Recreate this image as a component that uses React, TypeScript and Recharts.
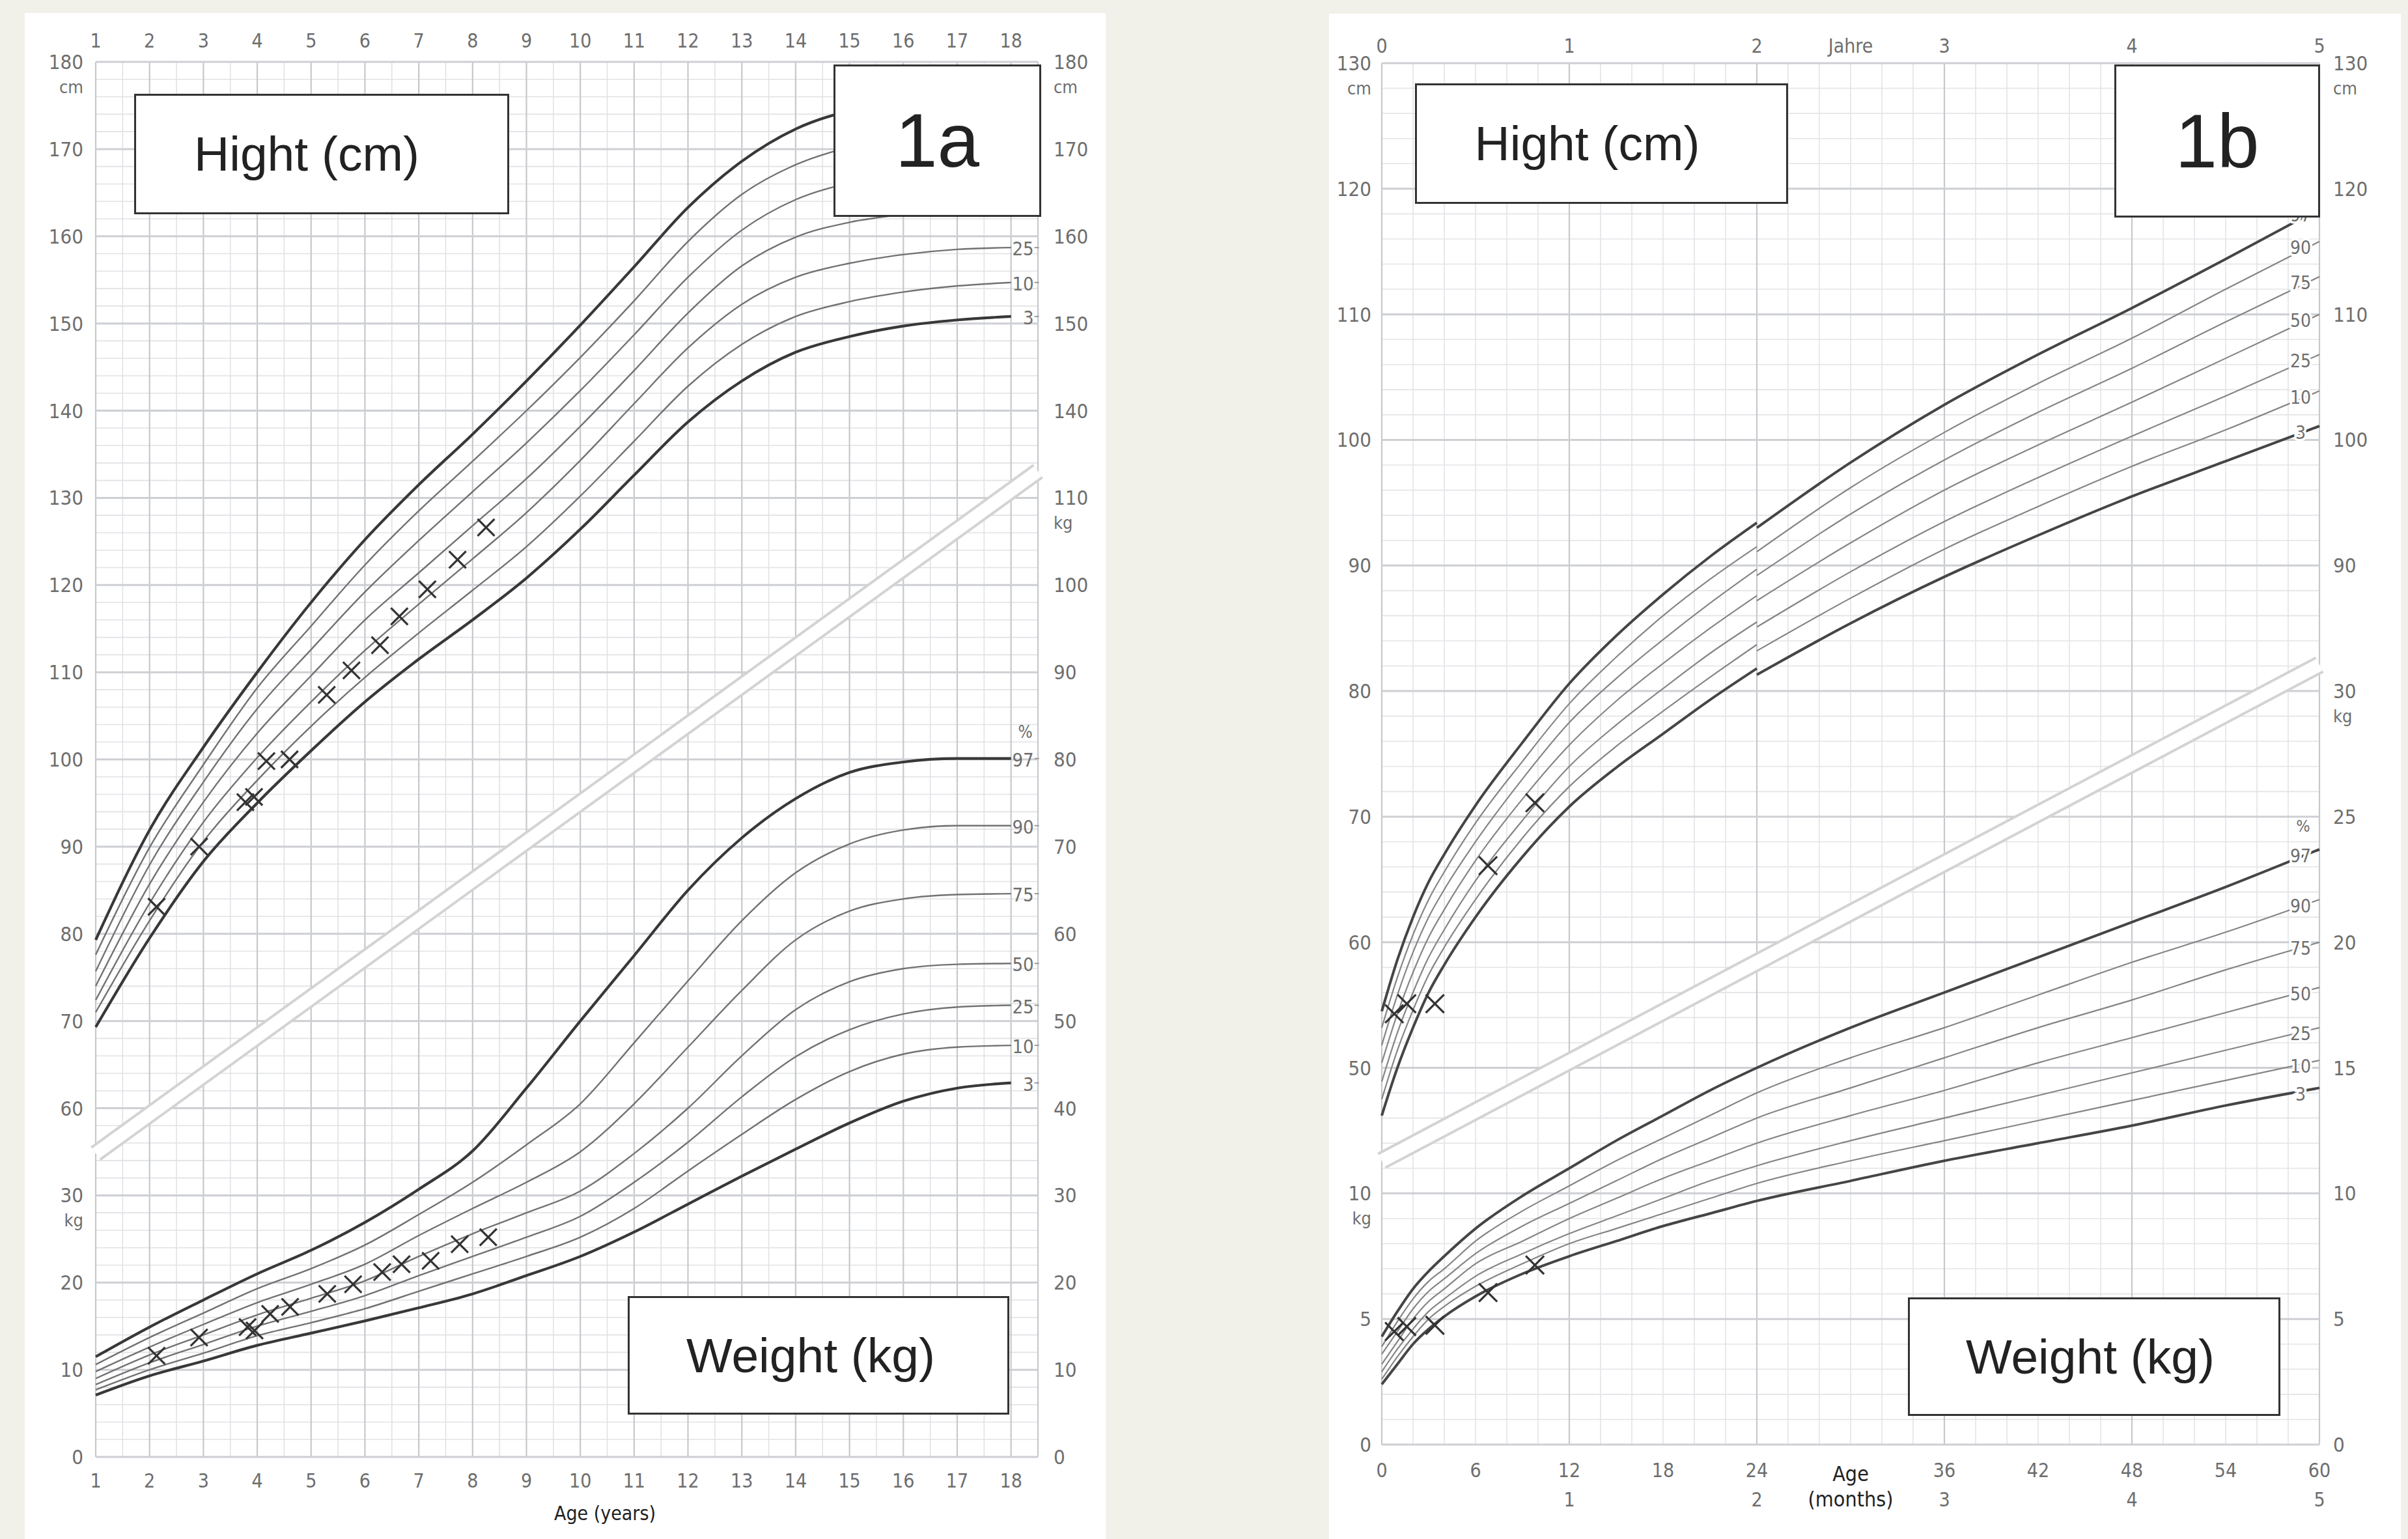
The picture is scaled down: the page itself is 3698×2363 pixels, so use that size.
import React from 'react'
import { ComposedChart, Line, XAxis, YAxis, CartesianGrid } from 'recharts'

// ---------- shared look ----------
const PAGE_BG = '#f1f1ea'
const NARROW = "'Liberation Sans Narrow', 'DejaVu Sans Condensed', 'Liberation Sans', sans-serif"
const ARIAL = "'Liberation Sans', Arial, Helvetica, sans-serif"
const TICK_GRAY = '#6e6e6e'

// ---------- 1a: girls 1-18 years ----------
const ageYears = [1, 2, 3, 4, 5, 6, 7, 8, 9, 10, 11, 12, 13, 14, 15, 16, 17, 18]

const heightP3 = [69.3, 79.5, 88.3, 95.0, 101.0, 106.6, 111.5, 116.0, 120.8, 126.4, 132.6, 138.7, 143.4, 146.7, 148.5, 149.7, 150.4, 150.8]
const heightP10 = [71.0, 81.5, 90.6, 97.6, 103.8, 109.4, 114.5, 119.4, 124.4, 130.2, 136.5, 142.8, 147.6, 150.8, 152.5, 153.6, 154.3, 154.7]
const heightP25 = [72.4, 83.5, 92.8, 100.2, 106.6, 112.5, 117.8, 123.0, 128.3, 134.3, 140.8, 147.2, 152.2, 155.3, 156.9, 157.9, 158.5, 158.7]
const heightP50 = [74.0, 85.7, 95.1, 103.0, 109.6, 116.0, 121.4, 126.8, 132.2, 138.2, 144.6, 151.2, 156.6, 159.9, 161.6, 162.5, 163.0, 163.2]
const heightP75 = [75.7, 87.9, 97.4, 105.8, 112.6, 119.2, 125.1, 130.7, 136.3, 142.3, 148.7, 155.3, 160.7, 164.2, 166.1, 167.0, 167.5, 167.7]
const heightP90 = [77.6, 89.9, 99.4, 108.2, 115.3, 122.3, 128.5, 134.2, 140.0, 146.1, 152.6, 159.4, 164.8, 168.2, 170.2, 171.2, 171.6, 171.8]
const heightP97 = [79.3, 91.9, 101.4, 110.0, 118.0, 125.2, 131.5, 137.3, 143.4, 149.8, 156.5, 163.3, 168.6, 172.3, 174.4, 175.4, 175.8, 176.0]

// weight in kg (drawn 20 units below the cm scale, as on the sheet)
const weightP3 = [7.1, 9.3, 11.0, 12.8, 14.2, 15.6, 17.1, 18.7, 20.8, 23.0, 25.8, 29.0, 32.2, 35.3, 38.3, 40.8, 42.3, 42.9]
const weightP10 = [7.7, 10.0, 11.9, 13.9, 15.4, 17.0, 19.0, 21.0, 23.0, 25.2, 28.5, 32.8, 37.0, 41.0, 44.2, 46.2, 47.0, 47.2]
const weightP25 = [8.3, 10.8, 12.9, 15.0, 16.7, 18.5, 20.8, 23.0, 25.2, 27.6, 31.5, 36.1, 41.3, 45.9, 49.0, 50.8, 51.6, 51.8]
const weightP50 = [9.0, 11.7, 14.0, 16.3, 18.2, 20.2, 23.0, 25.6, 28.0, 30.5, 34.8, 40.0, 46.0, 51.3, 54.5, 56.0, 56.5, 56.6]
const weightP75 = [9.8, 12.6, 15.2, 17.7, 19.8, 22.1, 25.4, 28.5, 31.5, 35.0, 40.5, 47.0, 53.5, 59.3, 62.6, 64.0, 64.5, 64.6]
const weightP90 = [10.6, 13.7, 16.5, 19.3, 21.6, 24.3, 27.8, 31.5, 35.8, 40.5, 47.5, 54.6, 61.5, 67.0, 70.3, 71.9, 72.4, 72.4]
const weightP97 = [11.5, 14.9, 18.0, 21.0, 23.7, 26.9, 30.7, 35.1, 42.3, 50.0, 57.5, 65.0, 71.0, 75.5, 78.5, 79.7, 80.1, 80.1]

// measured child (x marks)
const childHeightAge = [2.13, 2.92, 3.78, 3.94, 4.17, 4.6, 5.29, 5.75, 6.28, 6.64, 7.16, 7.72, 8.25]
const childHeightCm = [83.1, 90.0, 95.1, 95.7, 99.8, 100.0, 107.4, 110.2, 113.1, 116.4, 119.5, 122.9, 126.6]
const childWeightAge = [2.13, 2.92, 3.82, 3.95, 4.24, 4.61, 5.3, 5.78, 6.32, 6.68, 7.22, 7.76, 8.29]
const childWeightKg = [11.6, 13.7, 14.9, 14.5, 16.4, 17.2, 18.7, 19.8, 21.2, 22.1, 22.5, 24.4, 25.2]

// light double line between the two scales (centre line of the band)
const bandAgeA = [1, 18.5]
const bandCentreA = [54.8, 133.05]

const leftYLeftLabels: Record<number, string[]> = {
  20: ['0'], 30: ['10'], 40: ['20'], 50: ['30', 'kg'], 60: ['60'], 70: ['70'], 80: ['80'], 90: ['90'],
  100: ['100'], 110: ['110'], 120: ['120'], 130: ['130'], 140: ['140'], 150: ['150'], 160: ['160'],
  170: ['170'], 180: ['180', 'cm'],
}
const leftYRightLabels: Record<number, string[]> = {
  20: ['0'], 30: ['10'], 40: ['20'], 50: ['30'], 60: ['40'], 70: ['50'], 80: ['60'], 90: ['70'],
  100: ['80'], 110: ['90'], 120: ['100'], 130: ['110', 'kg'], 140: ['140'], 150: ['150'], 160: ['160'],
  170: ['170'], 180: ['180', 'cm'],
}

// ---------- 1b: 0-5 years (months) ----------
const monthsA = [0, 1, 2, 3, 4, 6, 9, 12, 15, 18, 21, 24]
const monthsB = [24, 30, 36, 42, 48, 54, 60]

const lenP3 = [46.2, 50.0, 53.2, 56.0, 58.2, 62.0, 66.8, 70.8, 73.9, 76.6, 79.3, 81.8]
const lenP10 = [47.5, 51.4, 54.6, 57.4, 59.6, 63.4, 68.3, 72.4, 75.6, 78.4, 81.1, 83.7]
const lenP25 = [48.9, 52.8, 56.0, 58.8, 61.0, 64.9, 69.7, 74.0, 77.3, 80.2, 83.0, 85.5]
const lenP50 = [50.4, 54.3, 57.6, 60.4, 62.6, 66.5, 71.4, 75.7, 79.2, 82.2, 85.0, 87.6]
const lenP75 = [51.8, 55.8, 59.2, 62.0, 64.2, 68.0, 73.0, 77.5, 81.0, 84.1, 87.0, 89.7]
const lenP90 = [53.2, 57.2, 60.6, 63.4, 65.6, 69.5, 74.4, 79.0, 82.7, 86.0, 88.9, 91.5]
const lenP97 = [54.5, 58.6, 62.0, 64.8, 67.0, 70.9, 75.9, 80.6, 84.4, 87.7, 90.7, 93.4]

const standP3 = [81.3, 85.4, 89.1, 92.4, 95.5, 98.3, 101.1]
const standP10 = [83.2, 87.4, 91.3, 94.7, 97.9, 100.8, 103.9]
const standP25 = [85.1, 89.5, 93.5, 97.0, 100.3, 103.5, 106.8]
const standP50 = [87.2, 91.8, 96.0, 99.6, 103.0, 106.5, 110.0]
const standP75 = [89.2, 94.1, 98.4, 102.2, 105.7, 109.4, 113.0]
const standP90 = [91.1, 96.2, 100.6, 104.5, 108.1, 112.0, 115.8]
const standP97 = [93.0, 98.2, 102.8, 106.8, 110.5, 114.4, 118.4]

const monthsW = [0, 1, 2, 3, 4, 6, 9, 12, 15, 18, 21, 24, 30, 36, 42, 48, 54, 60]
const infWeightP3 = [2.4, 3.2, 4.0, 4.6, 5.1, 5.9, 6.8, 7.5, 8.1, 8.7, 9.2, 9.7, 10.5, 11.3, 12.0, 12.7, 13.5, 14.2]
const infWeightP10 = [2.6, 3.5, 4.3, 5.0, 5.5, 6.3, 7.2, 8.0, 8.6, 9.2, 9.8, 10.4, 11.3, 12.1, 12.9, 13.7, 14.5, 15.3]
const infWeightP25 = [2.9, 3.8, 4.6, 5.3, 5.8, 6.7, 7.6, 8.4, 9.1, 9.8, 10.5, 11.1, 12.1, 13.0, 13.9, 14.8, 15.7, 16.6]
const infWeightP50 = [3.2, 4.1, 5.0, 5.7, 6.2, 7.2, 8.1, 9.0, 9.8, 10.6, 11.3, 12.0, 13.1, 14.1, 15.2, 16.2, 17.2, 18.2]
const infWeightP75 = [3.6, 4.5, 5.4, 6.1, 6.6, 7.6, 8.7, 9.6, 10.5, 11.4, 12.2, 13.0, 14.2, 15.4, 16.6, 17.7, 18.9, 20.0]
const infWeightP90 = [3.9, 4.9, 5.8, 6.5, 7.0, 8.1, 9.3, 10.3, 11.3, 12.2, 13.1, 14.0, 15.4, 16.6, 17.9, 19.2, 20.4, 21.7]
const infWeightP97 = [4.3, 5.3, 6.2, 6.9, 7.5, 8.6, 9.9, 11.0, 12.1, 13.1, 14.1, 15.0, 16.6, 18.0, 19.4, 20.8, 22.2, 23.7]

const infantMonths = [0.8, 1.6, 3.4, 6.8, 9.8]
const infantCm = [54.3, 55.1, 55.1, 66.1, 71.1]
const infantKg = [4.5, 4.7, 4.75, 6.05, 7.15]

const bandMonthsB = [0, 60]
const bandCentreB = [42.6, 82.1]

const rightYLeftLabels: Record<number, string[]> = {
  20: ['0'], 30: ['5'], 40: ['10', 'kg'], 50: ['50'], 60: ['60'], 70: ['70'], 80: ['80'], 90: ['90'],
  100: ['100'], 110: ['110'], 120: ['120'], 130: ['130', 'cm'],
}
const rightYRightLabels: Record<number, string[]> = {
  20: ['0'], 30: ['5'], 40: ['10'], 50: ['15'], 60: ['20'], 70: ['25'], 80: ['30', 'kg'], 90: ['90'],
  100: ['100'], 110: ['110'], 120: ['120'], 130: ['130', 'cm'],
}
const monthTicks = [0, 6, 12, 18, 24, 30, 36, 42, 48, 54, 60]
const monthBottomLabels: Record<number, string[]> = {
  0: ['0'], 6: ['6'], 12: ['12', '1'], 18: ['18'], 24: ['24', '2'], 30: ['Age', '(months)'],
  36: ['36', '3'], 42: ['42'], 48: ['48', '4'], 54: ['54'], 60: ['60', '5'],
}
const yearTopTicks = [0, 12, 24, 30, 36, 48, 60]
const yearTopLabels: Record<number, string[]> = {
  0: ['0'], 12: ['1'], 24: ['2'], 30: ['Jahre'], 36: ['3'], 48: ['4'], 60: ['5'],
}

// ---------- helpers ----------
const range = (a: number, b: number, step: number) => {
  const out: number[] = []
  for (let v = a; v <= b + 1e-9; v += step) out.push(Math.round(v * 100) / 100)
  return out
}
const toPoints = (xs: number[], ys: number[], shift = 0, scale = 1) =>
  xs.map((x, i) => ({ x, v: ys[i] * scale + shift }))

const THICK = { stroke: '#383838', strokeWidth: 4.2 }
const THIN = { stroke: '#727272', strokeWidth: 2.4 }
const THICK_B = { stroke: '#454545', strokeWidth: 4 }
const THIN_B = { stroke: '#858585', strokeWidth: 2.2 }

const yTick = (labels: Record<number, string[]>, anchor: 'start' | 'end') => (p: any) => {
  const lines = labels[p.payload.value]
  if (!lines) return <g />
  return (
    <g>
      {lines.map((t, i) => (
        <text key={i} x={p.x} y={p.y + i * 38} textAnchor={anchor} dominantBaseline="central"
          fontFamily={NARROW} fontStretch="condensed" fontSize={i === 0 ? 31 : 27} fill={TICK_GRAY}>{t}</text>
      ))}
    </g>
  )
}
const xTick = (labels: Record<number, string[]> | null, rowGap: number) => (p: any) => {
  const v = p.payload.value
  const lines = labels ? labels[v] : [String(v)]
  if (!lines) return <g />
  const dark = lines[0] === 'Age'
  return (
    <g>
      {lines.map((t, i) => (
        <text key={i} x={p.x} y={p.y + i * rowGap + (dark && i === 0 ? 6 : 0)} textAnchor="middle" dominantBaseline="central"
          fontFamily={NARROW} fontStretch="condensed" fontSize={dark ? 32 : 30} fill={dark ? '#222' : TICK_GRAY}>{t}</text>
      ))}
    </g>
  )
}

const cross = (size: number) => (p: any) => (
  <g key={`c${p.index}`}>
    <line x1={p.cx - size} y1={p.cy - size} x2={p.cx + size} y2={p.cy + size} stroke="#333" strokeWidth={3.2} />
    <line x1={p.cx - size} y1={p.cy + size} x2={p.cx + size} y2={p.cy - size} stroke="#333" strokeWidth={3.2} />
  </g>
)

// percentile label at the right end of a curve (sheet 1a)
const endLabelA = (text: string, n: number, withPct = false) => (p: any) => {
  if (p.index !== n - 1) return <g key={`l${p.index}`} />
  return (
    <g key={`l${p.index}`}>
      {withPct && (
        <text x={p.cx + 22} y={p.cy - 41} textAnchor="middle" dominantBaseline="central"
          fontFamily={NARROW} fontStretch="condensed" fontSize={26} fill={TICK_GRAY}>%</text>
      )}
      <text x={p.cx + 35} y={p.cy + 2} textAnchor="end" dominantBaseline="central"
        fontFamily={NARROW} fontStretch="condensed" fontSize={29} fill={TICK_GRAY}>{text}</text>
      <line x1={p.cx + 36} x2={p.cx + 43} y1={p.cy} y2={p.cy} stroke="#9a9a9a" strokeWidth={2} />
    </g>
  )
}

// percentile label sitting on the curve just before 60 months (sheet 1b)
const endLabelB = (text: string, n: number, withPct = false) => (p: any) => {
  if (p.index !== n - 1) return <g key={`l${p.index}`} />
  return (
    <g key={`l${p.index}`}>
      {withPct && (
        <text x={p.cx - 25} y={p.cy - 36} textAnchor="middle" dominantBaseline="central"
          fontFamily={NARROW} fontStretch="condensed" fontSize={25} fill={TICK_GRAY}>%</text>
      )}
      <text x={p.cx - 29} y={p.cy + 10} textAnchor="middle" dominantBaseline="central"
        fontFamily={NARROW} fontStretch="condensed" fontSize={28} fill={TICK_GRAY}
        stroke="#fff" strokeWidth={7} paintOrder="stroke">{text}</text>
    </g>
  )
}

// white band with light grey edges: a wide grey stroke under a narrower white one
const bandLines = (pts: { x: number; v: number }[], outer: number, inner: number) => [
  <Line key="band-o" data={pts} dataKey="v" type="linear" stroke="#d3d3d3" strokeWidth={outer}
    dot={false} activeDot={false} isAnimationActive={false} />,
  <Line key="band-i" data={pts} dataKey="v" type="linear" stroke="#ffffff" strokeWidth={inner}
    dot={false} activeDot={false} isAnimationActive={false} />,
]

// ---------- chart 1a ----------
function ChartA() {
  const rows = ageYears.map((x, i) => ({
    x,
    h3: heightP3[i], h10: heightP10[i], h25: heightP25[i], h50: heightP50[i],
    h75: heightP75[i], h90: heightP90[i], h97: heightP97[i],
    w3: weightP3[i] + 20, w10: weightP10[i] + 20, w25: weightP25[i] + 20, w50: weightP50[i] + 20,
    w75: weightP75[i] + 20, w90: weightP90[i] + 20, w97: weightP97[i] + 20,
  }))
  const n = rows.length
  const yTicks = range(20, 180, 10)
  const hMinor = range(20, 180, 2).filter((v) => v % 10 !== 0)
  const vMinor = range(1.5, 18, 1)
  const vMajor = [...ageYears, 18.5]
  const series: [string, string, boolean][] = [
    ['h97', '97', true], ['h90', '90', false], ['h75', '75', false], ['h50', '50', false],
    ['h25', '25', false], ['h10', '10', false], ['h3', '3', true],
    ['w97', '97', true], ['w90', '90', false], ['w75', '75', false], ['w50', '50', false],
    ['w25', '25', false], ['w10', '10', false], ['w3', '3', true],
  ]
  return (
    <ComposedChart width={1700} height={2363} data={rows} margin={{ top: 45, right: 16, bottom: 66, left: 47 }}>
      <XAxis dataKey="x" type="number" domain={[1, 18.5]} ticks={ageYears} interval={0} height={60}
        axisLine={false} tickLine={false} tickSize={0} tickMargin={36} tick={xTick(null, 0)} />
      <XAxis xAxisId="top" orientation="top" dataKey="x" type="number" domain={[1, 18.5]} ticks={ageYears}
        interval={0} height={50} axisLine={false} tickLine={false} tickSize={0} tickMargin={33} tick={xTick(null, 0)} />
      <YAxis type="number" domain={[20, 180]} ticks={yTicks} interval={0} width={100}
        axisLine={false} tickLine={false} tickSize={0} tickMargin={19} tick={yTick(leftYLeftLabels, 'end')} />
      <YAxis yAxisId="right" orientation="right" type="number" domain={[20, 180]} ticks={yTicks} interval={0}
        width={90} axisLine={false} tickLine={false} tickSize={0} tickMargin={24} tick={yTick(leftYRightLabels, 'start')} />

      <CartesianGrid horizontal={false} verticalValues={vMinor} stroke="#e1e2e5" strokeWidth={1.6} />
      <CartesianGrid vertical={false} horizontalValues={hMinor} stroke="#e1e2e5" strokeWidth={1.6} />
      <CartesianGrid horizontal={false} verticalValues={vMajor} stroke="#c6c8cc" strokeWidth={2.2} />
      <CartesianGrid vertical={false} horizontalValues={yTicks} stroke="#cdcfd3" strokeWidth={3} />

      {bandLines(toPoints(bandAgeA, bandCentreA), 27, 19)}

      {series.map(([key, label, heavy]) => (
        <Line key={key} dataKey={key} type="monotone" {...(heavy ? THICK : THIN)}
          dot={endLabelA(label, n, key === 'w97')} activeDot={false} isAnimationActive={false} />
      ))}

      <Line data={toPoints(childHeightAge, childHeightCm)} dataKey="v" stroke="none" dot={cross(13)}
        activeDot={false} isAnimationActive={false} />
      <Line data={toPoints(childWeightAge, childWeightKg, 20)} dataKey="v" stroke="none" dot={cross(13)}
        activeDot={false} isAnimationActive={false} />

      <Line xAxisId="top" yAxisId="right" data={toPoints(bandAgeA, [20, 180])} dataKey="v" stroke="none"
        dot={false} activeDot={false} isAnimationActive={false} />
    </ComposedChart>
  )
}

// ---------- chart 1b ----------
function ChartB() {
  const nB = monthsB.length
  const nW = monthsW.length
  const yTicks = range(20, 130, 10)
  const hMinor = range(20, 130, 2).filter((v) => v % 10 !== 0)
  const vMinor = range(2, 58, 2).filter((v) => v % 12 !== 0)
  const vMajor = range(0, 60, 12)
  const lenSeries: [string, number[], number[], boolean][] = [
    ['97', lenP97, standP97, true], ['90', lenP90, standP90, false], ['75', lenP75, standP75, false],
    ['50', lenP50, standP50, false], ['25', lenP25, standP25, false], ['10', lenP10, standP10, false],
    ['3', lenP3, standP3, true],
  ]
  const wSeries: [string, number[], boolean][] = [
    ['97', infWeightP97, true], ['90', infWeightP90, false], ['75', infWeightP75, false],
    ['50', infWeightP50, false], ['25', infWeightP25, false], ['10', infWeightP10, false],
    ['3', infWeightP3, true],
  ]
  return (
    <ComposedChart width={1698} height={2363} margin={{ top: 47, right: 36, bottom: 45, left: 22 }}>
      <XAxis dataKey="x" type="number" domain={[0, 60]} ticks={monthTicks} interval={0} height={100}
        axisLine={false} tickLine={false} tickSize={0} tickMargin={39} tick={xTick(monthBottomLabels, 45)} />
      <XAxis xAxisId="top" orientation="top" dataKey="x" type="number" domain={[0, 60]} ticks={yearTopTicks}
        interval={0} height={50} axisLine={false} tickLine={false} tickSize={0} tickMargin={27} tick={xTick(yearTopLabels, 0)} />
      <YAxis type="number" domain={[20, 130]} ticks={yTicks} interval={0} width={100}
        axisLine={false} tickLine={false} tickSize={0} tickMargin={16} tick={yTick(rightYLeftLabels, 'end')} />
      <YAxis yAxisId="right" orientation="right" type="number" domain={[20, 130]} ticks={yTicks} interval={0}
        width={100} axisLine={false} tickLine={false} tickSize={0} tickMargin={21} tick={yTick(rightYRightLabels, 'start')} />

      <CartesianGrid horizontal={false} verticalValues={vMinor} stroke="#e3e4e7" strokeWidth={1.6} />
      <CartesianGrid vertical={false} horizontalValues={hMinor} stroke="#e3e4e7" strokeWidth={1.6} />
      <CartesianGrid horizontal={false} verticalValues={vMajor} stroke="#c6c8cc" strokeWidth={2.2} />
      <CartesianGrid vertical={false} horizontalValues={yTicks} stroke="#cdcfd3" strokeWidth={3} />

      {bandLines(toPoints(bandMonthsB, bandCentreB), 28, 20)}

      {lenSeries.map(([label, lying, standing, heavy]) => (
        <React.Fragment key={'len' + label}>
          <Line data={toPoints(monthsA, lying)} dataKey="v" type="monotone" {...(heavy ? THICK_B : THIN_B)}
            dot={false} activeDot={false} isAnimationActive={false} />
          <Line data={toPoints(monthsB, standing)} dataKey="v" type="monotone" {...(heavy ? THICK_B : THIN_B)}
            dot={endLabelB(label, nB)} activeDot={false} isAnimationActive={false} />
        </React.Fragment>
      ))}

      {wSeries.map(([label, kg, heavy]) => (
        <Line key={'w' + label} data={toPoints(monthsW, kg, 20, 2)} dataKey="v" type="monotone"
          {...(heavy ? THICK_B : THIN_B)} dot={endLabelB(label, nW, label === '97')}
          activeDot={false} isAnimationActive={false} />
      ))}

      <Line data={toPoints(infantMonths, infantCm)} dataKey="v" stroke="none" dot={cross(14)}
        activeDot={false} isAnimationActive={false} />
      <Line data={toPoints(infantMonths, infantKg, 20, 2)} dataKey="v" stroke="none" dot={cross(14)}
        activeDot={false} isAnimationActive={false} />

      <Line xAxisId="top" yAxisId="right" data={toPoints(bandMonthsB, [20, 130])} dataKey="v" stroke="none"
        dot={false} activeDot={false} isAnimationActive={false} />
    </ComposedChart>
  )
}

// ---------- label boxes ----------
function Box(props: { left: number; top: number; width: number; height: number; text: string; size: number; shift?: number }) {
  const { left, top, width, height, text, size, shift = 0 } = props
  return (
    <div style={{
      position: 'absolute', left, top, width, height, boxSizing: 'border-box',
      border: '3px solid #333', background: '#fff', display: 'flex', alignItems: 'center',
      justifyContent: 'center', fontFamily: ARIAL, fontSize: size, color: '#222',
      paddingRight: shift > 0 ? shift : 0, paddingLeft: shift < 0 ? -shift : 0, lineHeight: 1,
    }}>{text}</div>
  )
}

export default function App() {
  return (
    <div style={{ position: 'absolute', left: 0, top: 0, width: 3698, height: 2363, background: PAGE_BG, overflow: 'hidden' }}>
      <div style={{ position: 'absolute', left: 38, top: 20, width: 1660, height: 2343, background: '#fff' }} />
      <div style={{ position: 'absolute', left: 2041, top: 21, width: 1646, height: 2342, background: '#fff' }} />

      <div style={{ position: 'absolute', left: 0, top: 0 }}><ChartA /></div>
      <div style={{ position: 'absolute', left: 2000, top: 0 }}><ChartB /></div>

      <div style={{ position: 'absolute', left: 829, top: 2306, width: 200, textAlign: 'center', fontFamily: NARROW,
        fontStretch: 'condensed', fontSize: 30, color: '#222' }}>Age (years)</div>

      <Box left={206} top={144} width={576} height={185} text="Hight (cm)" size={75} shift={46} />
      <Box left={1280} top={99} width={319} height={234} text="1a" size={116} />
      <Box left={964} top={1990} width={586} height={182} text="Weight (kg)" size={75} shift={24} />

      <Box left={2173} top={128} width={573} height={185} text="Hight (cm)" size={75} shift={44} />
      <Box left={3247} top={99} width={316} height={235} text="1b" size={116} />
      <Box left={2930} top={1992} width={572} height={182} text="Weight (kg)" size={75} shift={12} />
    </div>
  )
}
